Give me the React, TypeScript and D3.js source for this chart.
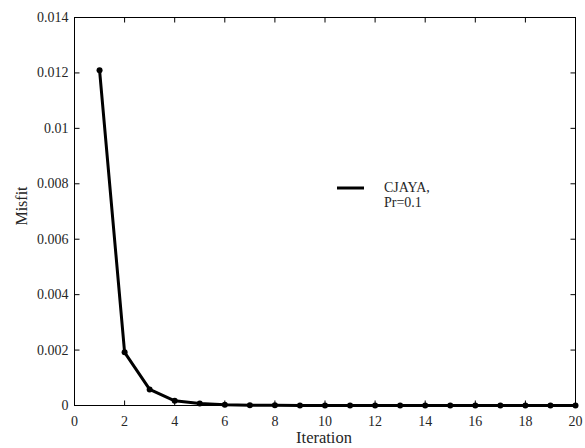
import React from "react";
import * as d3 from "d3";

const iterations = [1, 2, 3, 4, 5, 6, 7, 8, 9, 10, 11, 12, 13, 14, 15, 16, 17, 18, 19, 20];
const misfit = [0.0121, 0.00192, 0.00058, 0.00017, 0.00007, 0.00003, 0.00001, 0.000005, 0.000002, 0.000001, 0, 0, 0, 0, 0, 0, 0, 0, 0, 0];
const xTicks = [0, 2, 4, 6, 8, 10, 12, 14, 16, 18, 20];
const yTicks = [0, 0.002, 0.004, 0.006, 0.008, 0.01, 0.012, 0.014];
const yTickLabels = ["0", "0.002", "0.004", "0.006", "0.008", "0.01", "0.012", "0.014"];
const seriesName = ["CJAYA,", "Pr=0.1"];

export default function App() {
  const W = 585, H = 448;
  const L = 74.5, R = 575.5, T = 17.5, B = 405.5;
  const x = d3.scaleLinear().domain([0, 20]).range([L, R]);
  const y = d3.scaleLinear().domain([0, 0.014]).range([B, T]);
  const line = d3.line<number>().x((_, i) => x(iterations[i])).y((d) => y(d));
  const fs = { fontFamily: "Liberation Serif" };
  const tl = 5;
  return (
    <svg width={W} height={H} style={{ position: "absolute", left: 0, top: 0, background: "#fff" }}>
      <rect x={L} y={T} width={R - L} height={B - T} fill="none" stroke="#000" strokeWidth={1} />
      {xTicks.map((t) => (
        <g key={"x" + t}>
          <line x1={x(t)} x2={x(t)} y1={B} y2={B - tl} stroke="#000" />
          <line x1={x(t)} x2={x(t)} y1={T} y2={T + tl} stroke="#000" />
          <text x={x(t)} y={B + 20} fontSize={14} textAnchor="middle" fill="#262626" style={fs}>{t}</text>
        </g>
      ))}
      {yTicks.map((t, i) => (
        <g key={"y" + t}>
          <line x1={L} x2={L + tl} y1={y(t)} y2={y(t)} stroke="#000" />
          <line x1={R} x2={R - tl} y1={y(t)} y2={y(t)} stroke="#000" />
          <text x={L - 6} y={y(t) + 4.5} fontSize={14} textAnchor="end" fill="#262626" style={fs}>{yTickLabels[i]}</text>
        </g>
      ))}
      <text x={324} y={443} fontSize={16.5} textAnchor="middle" fill="#262626" style={fs}>Iteration</text>
      <text transform={`translate(27, 206) rotate(-90)`} fontSize={16} textAnchor="middle" fill="#262626" style={fs}>Misfit</text>
      <path d={line(misfit) || ""} fill="none" stroke="#000" strokeWidth={3} strokeLinejoin="round" />
      {misfit.map((v, i) => (
        <circle key={i} cx={x(iterations[i])} cy={y(v)} r={3} fill="#000" />
      ))}
      <line x1={337} x2={364} y1={188} y2={188} stroke="#000" strokeWidth={3} />
      <text x={384} y={192} fontSize={14} fill="#262626" style={fs}>{seriesName[0]}</text>
      <text x={384} y={207} fontSize={14} fill="#262626" style={fs}>{seriesName[1]}</text>
    </svg>
  );
}
